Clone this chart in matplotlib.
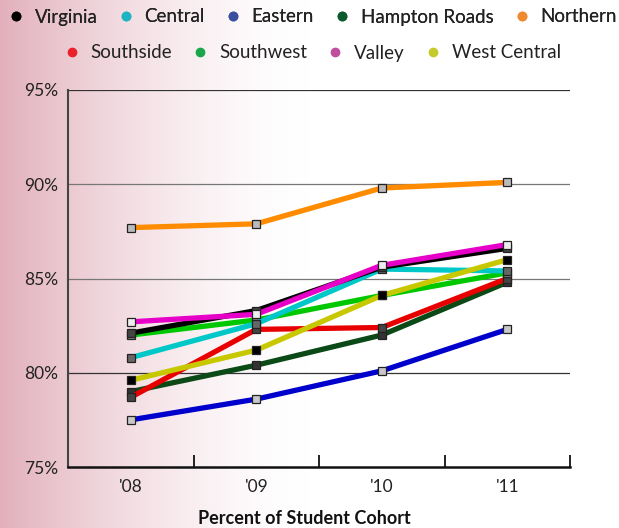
import matplotlib.pyplot as plt
import numpy as np
from matplotlib.lines import Line2D

plt.rcParams['font.family'] = ['Lato', 'DejaVu Sans']

years = ["'08", "'09", "'10", "'11"]
regions = ["Virginia", "Central", "Eastern", "Hampton Roads", "Northern",
           "Southside", "Southwest", "Valley", "West Central"]

virginia = [82.1, 83.3, 85.6, 86.6]
central = [80.8, 82.6, 85.5, 85.4]
eastern = [77.5, 78.6, 80.1, 82.3]
hampton_roads = [79.0, 80.4, 82.0, 84.8]
northern = [87.7, 87.9, 89.8, 90.1]
southside = [78.7, 82.3, 82.4, 85.0]
southwest = [82.0, 82.8, 84.1, 85.3]
valley = [82.7, 83.1, 85.7, 86.8]
west_central = [79.6, 81.2, 84.1, 86.0]

series = {
    "Virginia": virginia, "Central": central, "Eastern": eastern,
    "Hampton Roads": hampton_roads, "Northern": northern,
    "Southside": southside, "Southwest": southwest, "Valley": valley,
    "West Central": west_central,
}

line_colors = {
    "Virginia": "#000000", "Central": "#00c8c8", "Eastern": "#0000cc",
    "Hampton Roads": "#0b4a16", "Northern": "#ff8c00", "Southside": "#e80000",
    "Southwest": "#00c800", "Valley": "#e600c8", "West Central": "#c8c800",
}
marker_faces = {
    "Virginia": "#444444", "Central": "#666666", "Eastern": "#c8c8c8",
    "Hampton Roads": "#333333", "Northern": "#bbbbbb", "Southside": "#444444",
    "Southwest": "#888888", "Valley": "#eeeeee", "West Central": "#000000",
}
legend_colors = {
    "Virginia": "#000000", "Central": "#1ab4c2", "Eastern": "#3a4fa0",
    "Hampton Roads": "#0b5a2e", "Northern": "#f08a30", "Southside": "#e8212a",
    "Southwest": "#1aa64a", "Valley": "#c04d9e", "West Central": "#c6c92a",
}
draw_order = ["Eastern", "Hampton Roads", "Southside", "Southwest", "Central",
              "Northern", "Virginia", "West Central", "Valley"]

fig = plt.figure(figsize=(6.19, 5.28), dpi=100)

# pink-to-white background wash, fading out smoothly towards the middle
bg = fig.add_axes([0, 0, 1, 1], zorder=-10)
t = np.clip(np.linspace(0, 1, 619) / 0.5, 0, 1)
fade = (1 - t) ** 1.6
left = np.array([226, 176, 188]) / 255
grad = 1 - (1 - left[None, :]) * fade[:, None]
bg.imshow(grad[None, :, :], aspect='auto', extent=[0, 1, 0, 1])
bg.axis('off')

ax = fig.add_axes([68 / 619, 61 / 528, 502 / 619, 377 / 528])
ax.set_facecolor('none')

x = np.arange(len(years))
for name in draw_order:
    ax.plot(x, series[name], color=line_colors[name], lw=3.8,
            marker='s', ms=6, mfc=marker_faces[name], mec='#222222',
            mew=0.9, solid_capstyle='butt')

ax.set_xlim(-0.5, 3.5)
ax.set_ylim(75, 95)
ax.set_yticks([75, 80, 85, 90, 95])
ax.set_yticklabels(["75%", "80%", "85%", "90%", "95%"], fontsize=12.5,
                   color='#222222')
ax.set_xticks(x)
ax.set_xticklabels(years, fontsize=12.5, color='#222222')
ax.set_xticks([-0.5, 0.5, 1.5, 2.5, 3.5], minor=True)
ax.tick_params(axis='x', which='major', length=0, pad=9)
ax.tick_params(axis='x', which='minor', direction='in', length=9,
               width=1.3, color='#111111')
ax.tick_params(axis='y', length=0, pad=7)

for v in [80, 85, 90, 95]:
    ax.axhline(v, color='#333333' if v in (80, 95) else '#777777',
               lw=0.9, zorder=0)

for side in ['top', 'right']:
    ax.spines[side].set_visible(False)
ax.spines['left'].set_color('#444444')
ax.spines['left'].set_linewidth(1.5)
ax.spines['bottom'].set_color('#111111')
ax.spines['bottom'].set_linewidth(1.8)

ax.set_xlabel("Percent of Student Cohort", fontsize=13, fontweight='bold',
              color='#111111')
ax.xaxis.set_label_coords(0.47, -0.115)

def legend_row(names, y):
    handles = [Line2D([], [], ls='none', marker='o', ms=6,
                      color=legend_colors[n]) for n in names]
    leg = fig.legend(handles, names, loc='center', ncol=len(names),
                     bbox_to_anchor=(0.505, y), frameon=False, fontsize=13.5,
                     handlelength=0.8, handletextpad=0.6,
                     columnspacing=1.1, borderaxespad=0)
    for txt in leg.get_texts():
        txt.set_color('#222222')
    return leg

leg1 = legend_row(regions[:5], 1 - 17 / 528)
legend_row(regions[5:], 1 - 53 / 528)
fig.add_artist(leg1)

fig.savefig("out.png", dpi=100)
